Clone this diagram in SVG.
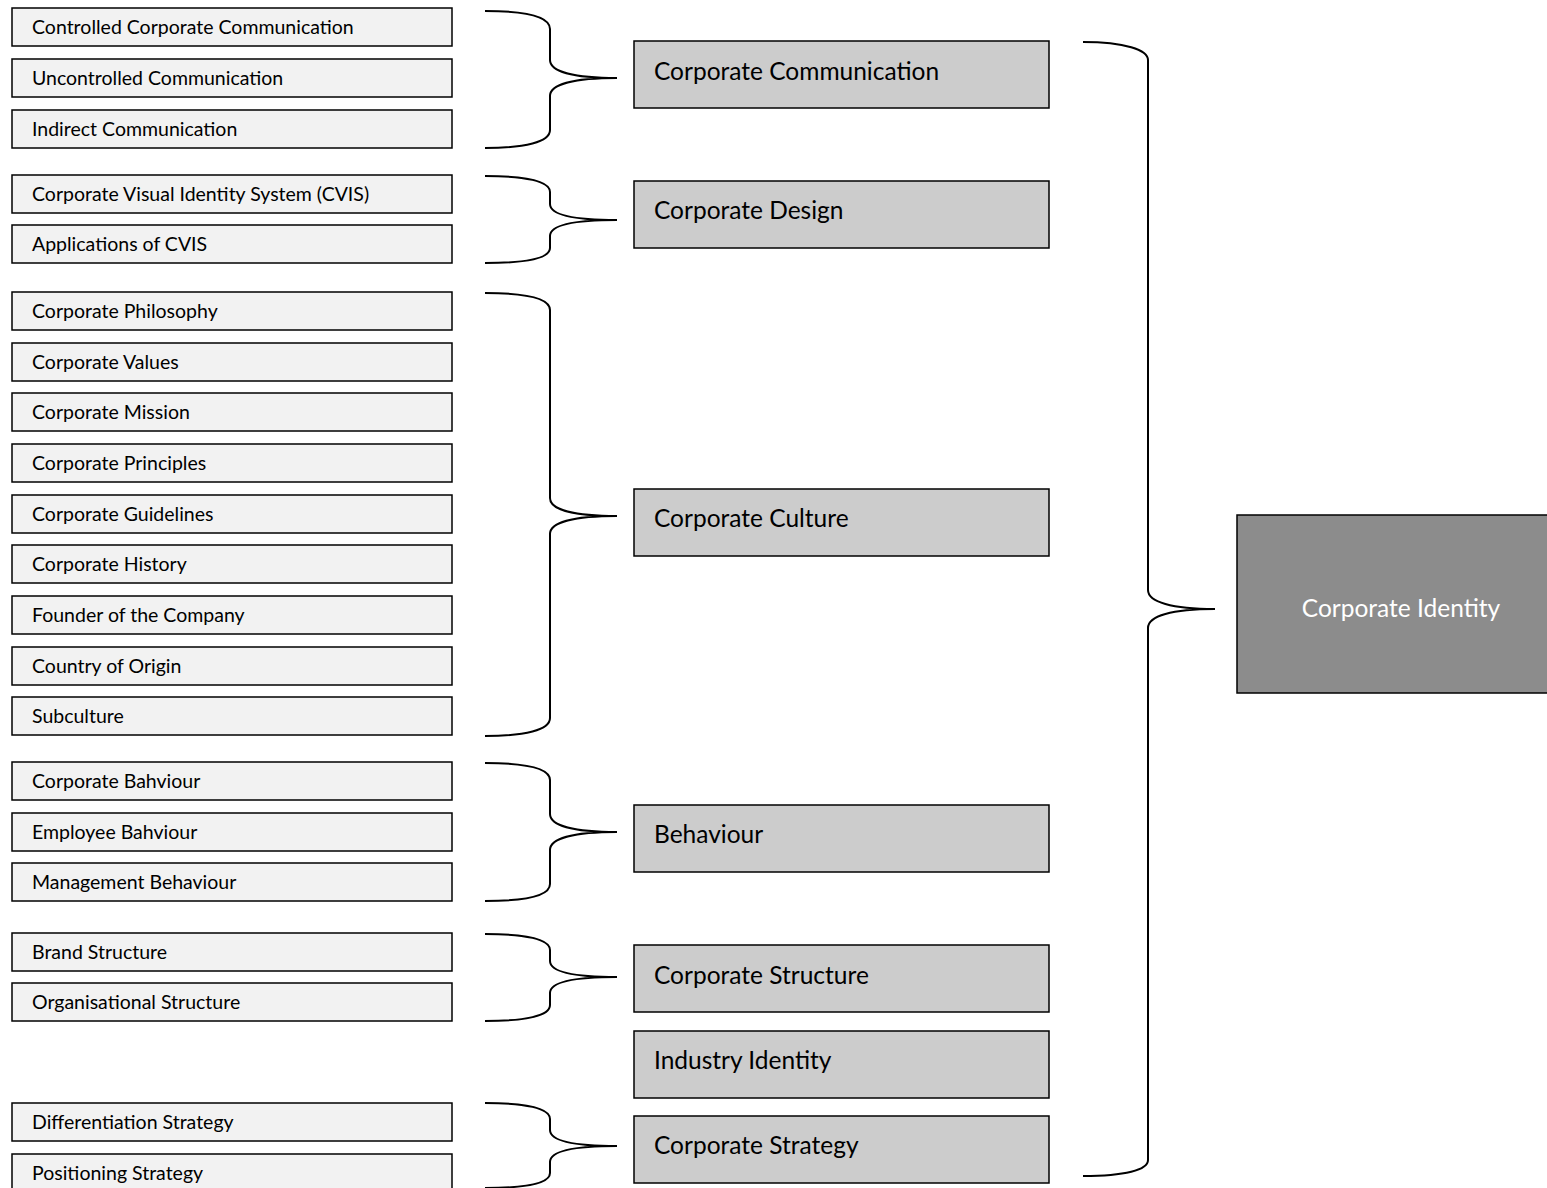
<svg xmlns="http://www.w3.org/2000/svg" width="1547" height="1188" viewBox="0 0 1547 1188">
  <style>
    .item rect { fill: #f2f2f2; stroke: #000; stroke-width: 1.5; }
    .item text { font-family: Lato, "Liberation Sans", sans-serif; font-size: 19.5px; fill: #000; dominant-baseline: central; }
    .group rect { fill: #cccccc; stroke: #000; stroke-width: 1.5; }
    .group text { font-family: Lato, "Liberation Sans", sans-serif; font-size: 24.5px; fill: #000; dominant-baseline: central; }
    .core rect { fill: #8c8c8c; stroke: #000; stroke-width: 1.5; }
    .core text { font-family: Lato, "Liberation Sans", sans-serif; font-size: 24.5px; fill: #fff; dominant-baseline: central; text-anchor: middle; }
    .brace { fill: none; stroke: #000; stroke-width: 2; }
  </style>

  <rect width="1547" height="1188" fill="#fff"/>

  <!-- detail items (left column) -->
  <g id="item-controlled" class="item"><rect x="12" y="8" width="440" height="38"/><text x="32" y="26">Controlled Corporate Communication</text></g>
  <g id="item-uncontrolled" class="item"><rect x="12" y="59" width="440" height="38"/><text x="32" y="77">Uncontrolled Communication</text></g>
  <g id="item-indirect" class="item"><rect x="12" y="110" width="440" height="38"/><text x="32" y="128">Indirect Communication</text></g>

  <g id="item-cvis" class="item"><rect x="12" y="175" width="440" height="38"/><text x="32" y="193">Corporate Visual Identity System (CVIS)</text></g>
  <g id="item-cvis-apps" class="item"><rect x="12" y="225" width="440" height="38"/><text x="32" y="243">Applications of CVIS</text></g>

  <g id="item-philosophy" class="item"><rect x="12" y="292" width="440" height="38"/><text x="32" y="310">Corporate Philosophy</text></g>
  <g id="item-values" class="item"><rect x="12" y="343" width="440" height="38"/><text x="32" y="361">Corporate Values</text></g>
  <g id="item-mission" class="item"><rect x="12" y="393" width="440" height="38"/><text x="32" y="411">Corporate Mission</text></g>
  <g id="item-principles" class="item"><rect x="12" y="444" width="440" height="38"/><text x="32" y="462">Corporate Principles</text></g>
  <g id="item-guidelines" class="item"><rect x="12" y="495" width="440" height="38"/><text x="32" y="513">Corporate Guidelines</text></g>
  <g id="item-history" class="item"><rect x="12" y="545" width="440" height="38"/><text x="32" y="563">Corporate History</text></g>
  <g id="item-founder" class="item"><rect x="12" y="596" width="440" height="38"/><text x="32" y="614">Founder of the Company</text></g>
  <g id="item-origin" class="item"><rect x="12" y="647" width="440" height="38"/><text x="32" y="665">Country of Origin</text></g>
  <g id="item-subculture" class="item"><rect x="12" y="697" width="440" height="38"/><text x="32" y="715">Subculture</text></g>

  <g id="item-corp-behaviour" class="item"><rect x="12" y="762" width="440" height="38"/><text x="32" y="780">Corporate Bahviour</text></g>
  <g id="item-employee-behaviour" class="item"><rect x="12" y="813" width="440" height="38"/><text x="32" y="831">Employee Bahviour</text></g>
  <g id="item-management-behaviour" class="item"><rect x="12" y="863" width="440" height="38"/><text x="32" y="881">Management Behaviour</text></g>

  <g id="item-brand-structure" class="item"><rect x="12" y="933" width="440" height="38"/><text x="32" y="951">Brand Structure</text></g>
  <g id="item-org-structure" class="item"><rect x="12" y="983" width="440" height="38"/><text x="32" y="1001">Organisational Structure</text></g>

  <g id="item-differentiation" class="item"><rect x="12" y="1103" width="440" height="38"/><text x="32" y="1121">Differentiation Strategy</text></g>
  <g id="item-positioning" class="item"><rect x="12" y="1154" width="440" height="38"/><text x="32" y="1172">Positioning Strategy</text></g>

  <!-- component groups (middle column) -->
  <g id="grp-communication" class="group"><rect x="634" y="41" width="415" height="67"/><text x="654" y="70">Corporate Communication</text></g>
  <g id="grp-design" class="group"><rect x="634" y="181" width="415" height="67"/><text x="654" y="209">Corporate Design</text></g>
  <g id="grp-culture" class="group"><rect x="634" y="489" width="415" height="67"/><text x="654" y="517">Corporate Culture</text></g>
  <g id="grp-behaviour" class="group"><rect x="634" y="805" width="415" height="67"/><text x="654" y="833">Behaviour</text></g>
  <g id="grp-structure" class="group"><rect x="634" y="945" width="415" height="67"/><text x="654" y="974">Corporate Structure</text></g>
  <g id="grp-industry" class="group"><rect x="634" y="1031" width="415" height="67"/><text x="654" y="1059">Industry Identity</text></g>
  <g id="grp-strategy" class="group"><rect x="634" y="1116" width="415" height="67"/><text x="654" y="1144">Corporate Strategy</text></g>

  <!-- overall identity -->
  <g id="core-identity" class="core"><rect x="1237" y="515" width="320" height="178"/><text x="1401" y="607">Corporate Identity</text></g>

  <!-- curly braces -->
  <g id="connectors">
    <path class="brace" d="M485,11 C525,11 550,16 550,29 L550,60 C550,72 575,78 617,78 C575,78 550,84 550,96 L550,130 C550,142 525,148 485,148"/>
    <path class="brace" d="M485,176 C525,176 550,181 550,192 L550,204 C550,215 575,220 617,220 C575,220 550,225 550,236 L550,248 C550,259 525,263 485,263"/>
    <path class="brace" d="M485,293 C525,293 550,298 550,310 L550,498 C550,510 575,516 617,516 C575,516 550,522 550,534 L550,718 C550,730 525,736 485,736"/>
    <path class="brace" d="M485,763 C525,763 550,768 550,780 L550,814 C550,826 575,832 617,832 C575,832 550,838 550,850 L550,884 C550,896 525,901 485,901"/>
    <path class="brace" d="M485,934 C525,934 550,939 550,950 L550,961 C550,972 575,977 617,977 C575,977 550,982 550,993 L550,1005 C550,1016 525,1021 485,1021"/>
    <path class="brace" d="M485,1103 C525,1103 550,1108 550,1119 L550,1130 C550,1141 575,1146 617,1146 C575,1146 550,1151 550,1162 L550,1173 C550,1184 525,1188 485,1188"/>
    <path class="brace" d="M1083,42 C1125,42 1148,50 1148,60 L1148,590 C1148,602 1172,609 1215,609 C1172,609 1148,616 1148,628 L1148,1160 C1148,1170 1125,1176 1083,1176"/>
  </g>
</svg>
